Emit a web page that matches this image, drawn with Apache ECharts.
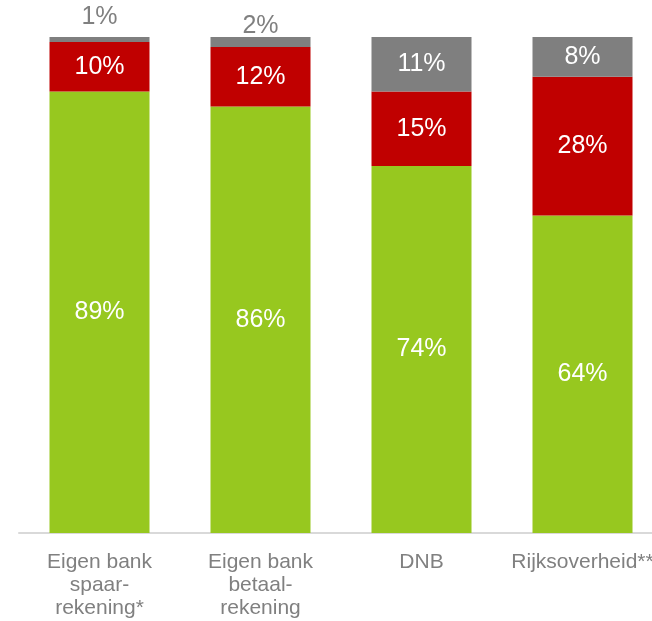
<!DOCTYPE html>
<html><head><meta charset="utf-8">
<script src="https://cdn.jsdelivr.net/npm/echarts@6/dist/echarts.min.js"></script>
<style>html,body{margin:0;padding:0;background:#fff}#c{width:652px;height:621px}</style>
</head><body><div id="c"></div>
<script>
const categories = ['Eigen bank\nspaar-\nrekening*', 'Eigen bank\nbetaal-\nrekening', 'DNB', 'Rijksoverheid**'];
const groen = [89, 86, 74, 64];
const rood = [10, 12, 15, 28];
const grijs = [1, 2, 11, 8];

const font = 'Liberation Sans, Arial, sans-serif';
const chart = echarts.init(document.getElementById('c'));
const insideLabel = {show: true, position: 'inside', color: '#fff', fontSize: 25, fontFamily: font, formatter: p => p.value + '%'};
chart.setOption({
  animation: false,
  grid: {left: 19, width: 644, top: 37, bottom: 88, outerBoundsMode: 'none', containLabel: false},
  xAxis: {
    type: 'category', data: categories,
    axisLine: {lineStyle: {color: '#d9d9d9', width: 2}},
    axisTick: {show: false},
    axisLabel: {color: '#808080', fontSize: 21, lineHeight: 23, fontFamily: font, margin: 18, interval: 0}
  },
  yAxis: {type: 'value', min: 0, max: 100, show: false, splitLine: {show: false}},
  series: [
    {name: 'groen', type: 'bar', stack: 's', data: groen, barWidth: 100, itemStyle: {color: '#97c81f'}, label: insideLabel},
    {name: 'rood', type: 'bar', stack: 's', data: rood, barWidth: 100, itemStyle: {color: '#c00000'}, label: insideLabel},
    {name: 'grijs', type: 'bar', stack: 's', barWidth: 100, itemStyle: {color: '#7f7f7f'},
      data: grijs.map((v, i) => i < 2 ? {value: v, label: {position: 'top', color: '#808080', distance: i === 0 ? 7 : -2}} : v),
      label: insideLabel}
  ]
});
</script></body></html>
